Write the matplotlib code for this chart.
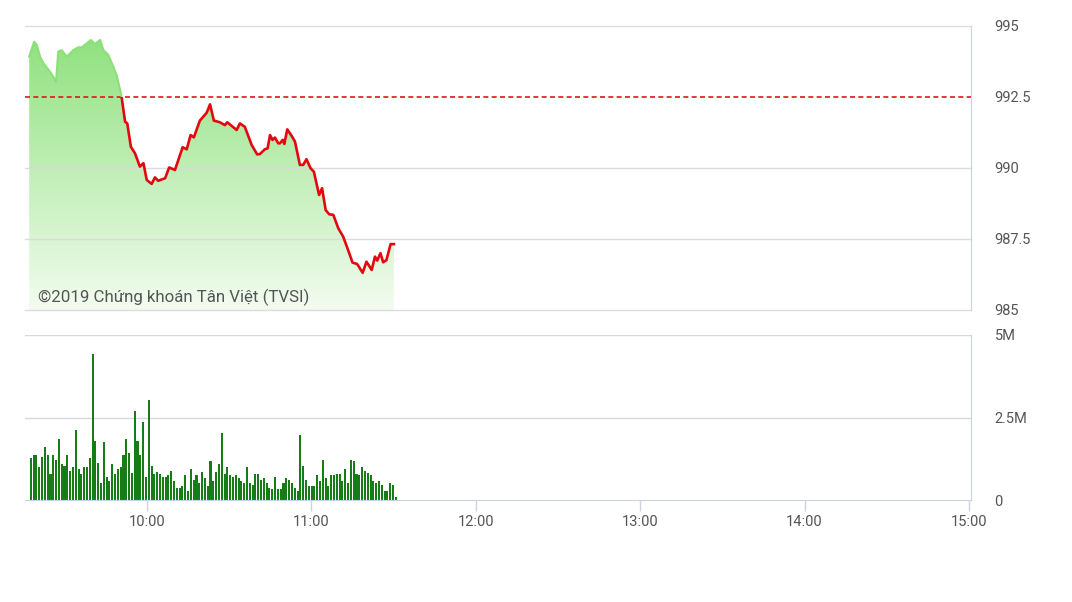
import numpy as np
import matplotlib.pyplot as plt
from matplotlib.patches import Rectangle
from matplotlib.colors import LinearSegmentedColormap

plt.rcParams['font.family'] = ['Roboto', 'DejaVu Sans']

# index, minutes after 9:00
price_min = [17, 18.8, 19.8, 21, 22.2, 24.6, 25.8, 26.8, 27.6, 28.9, 30.7, 33.1,
             34.9, 36.2, 38, 39.5, 41, 42.9, 44.1, 45.9, 47.7, 48.9, 50.2, 50.8,
             52, 52.8, 54.1, 55.6, 57.4, 58.7, 59.9, 61.7, 62.9, 64.1, 66.6, 68.1,
             70.2, 73.0, 74.5, 75.9, 77.1, 79.3, 81.8, 83.0, 84.4, 86.6, 88.4, 89.3,
             92.7, 93.9, 95.7, 98.2, 100.2, 101.2, 103.0, 104.0, 104.9, 105.8, 106.7,
             107.9, 108.5, 109.5, 110.1, 111.2, 112.8, 114.0, 115.8, 117.0, 118.2,
             119.7, 120.9, 122.8, 123.9, 125.2, 126.5, 128.0, 129.8, 131.6, 133.4,
             135.0, 136.7, 138.7, 140.1, 142.0, 143.2, 144.0, 145.2, 146.2, 147.4,
             148.9, 150.1]
price_val = [993.92, 994.45, 994.33, 993.92, 993.69, 993.39, 993.21, 993.03, 994.10,
             994.15, 993.92, 994.15, 994.25, 994.25, 994.39, 994.51, 994.37, 994.51,
             994.15, 993.98, 993.57, 993.27, 992.75, 992.45, 991.63, 991.57, 990.75,
             990.52, 990.05, 990.17, 989.58, 989.44, 989.67, 989.55, 989.64, 990.02,
             989.93, 990.73, 990.66, 991.16, 991.08, 991.67, 991.95, 992.24, 991.67,
             991.61, 991.51, 991.61, 991.34, 991.57, 991.45, 990.81, 990.48, 990.49,
             990.66, 990.69, 991.16, 990.99, 991.07, 990.87, 990.87, 990.99, 990.85,
             991.36, 991.13, 990.93, 990.11, 990.11, 990.31, 989.99, 989.87, 989.05,
             989.29, 988.52, 988.37, 988.35, 987.88, 987.58, 987.11, 986.67, 986.62,
             986.31, 986.70, 986.41, 986.88, 986.74, 987.00, 986.68, 986.76, 987.32,
             987.32]
ref_price = 992.5

# volume per minute, millions
vol_m = [1.26, 1.36, 1.36, 0.99, 1.29, 1.60, 1.36, 0.79, 1.36, 1.21, 1.84, 1.09,
         1.03, 1.36, 0.88, 0.99, 2.12, 0.94, 0.79, 0.99, 0.99, 1.26, 4.42, 1.80,
         1.11, 0.51, 1.76, 0.71, 0.59, 1.09, 0.79, 0.94, 0.99, 1.36, 1.84, 1.41,
         0.83, 2.70, 1.80, 1.36, 2.36, 0.71, 3.03, 1.03, 0.79, 0.85, 0.79, 0.71,
         0.69, 0.76, 0.88, 0.58, 0.35, 0.37, 0.42, 0.76, 0.27, 0.94, 0.61, 0.76,
         0.52, 0.85, 0.68, 0.42, 1.18, 0.58, 0.84, 1.09,
         2.04, 0.79, 0.99, 0.76, 0.71, 0.76, 0.66, 0.58, 0.52, 0.99, 0.51, 0.45,
         0.79, 0.79, 0.61, 0.66, 0.51, 0.37, 0.33, 0.69, 0.33, 0.33, 0.51, 0.66,
         0.61, 0.51, 0.37, 0.27, 1.96, 1.03, 0.61, 0.42, 0.42, 0.42, 0.76, 0.58,
         1.21, 0.66, 0.42, 0.76, 0.76, 0.79, 0.79, 0.58, 0.94, 0.51, 1.21, 1.18,
         0.79, 0.76, 0.99, 0.89, 0.83, 0.76, 0.58, 0.51, 0.58, 0.45, 0.27, 0.27,
         0.51, 0.45, 0.1]
vol_min = np.linspace(17.6, 150.8, len(vol_m))

hour_ticks = [60, 120, 180, 240, 300, 360]
hour_labels = ['10:00', '11:00', '12:00', '13:00', '14:00', '15:00']
price_ticks = [985, 987.5, 990, 992.5, 995]
vol_ticks = [0, 2.5, 5]
vol_labels = ['0', '2.5M', '5M']

xmin, xmax = 15.47, 360.73
grid_c = '#d9d9d9'
axis_c = '#c9d3e2'
txt_c = '#555555'

fig = plt.figure(figsize=(10.72, 6.02), dpi=100)
ax = fig.add_axes([25 / 1072, 1 - 310 / 602, 946 / 1072, 284 / 602])
axv = fig.add_axes([25 / 1072, 1 - 500 / 602, 946 / 1072, 165 / 602])

# price panel
ax.set_xlim(xmin, xmax)
ax.set_ylim(985, 995)
for v in [985, 987.5, 990, 995]:
    ax.axhline(v, color=grid_c, lw=1, zorder=1.5, alpha=0.9, clip_on=False)

poly = ax.fill_between(price_min, price_val, 985, color='none', lw=0)
grad = np.linspace(0, 1, 256).reshape(-1, 1)
cmap = LinearSegmentedColormap.from_list('g', ['#f3fcf0', '#8ce07a'])
im = ax.imshow(grad, cmap=cmap, aspect='auto', origin='lower',
               extent=[xmin, xmax, 985, 995], zorder=1)
im.set_clip_path(poly.get_paths()[0], transform=ax.transData)

ax.axhline(ref_price, color='#e0141c', lw=1.2, ls=(0, (3, 2)), zorder=2)

red_line, = ax.plot(price_min, price_val, color='#e3080f', lw=1.9, zorder=3)
red_line.set_clip_path(Rectangle((xmin, 980), xmax - xmin, ref_price - 980,
                                 transform=ax.transData))
green_line, = ax.plot(price_min, price_val, color='#8ce07a', lw=1.5, zorder=3)
green_line.set_clip_path(Rectangle((xmin, ref_price), xmax - xmin, 10,
                                   transform=ax.transData))

ax.text((38 - 25) / 946, 1 - (297 - 26) / 284, '©2019 Chứng khoán Tân Việt (TVSI)',
        transform=ax.transAxes, fontsize=12.2, color=txt_c, va='center', ha='left',
        zorder=4)

ax.set_xticks([])
ax.yaxis.tick_right()
ax.set_yticks(price_ticks)
ax.set_yticklabels(['985', '987.5', '990', '992.5', '995'])
ax.tick_params(axis='y', length=0, pad=17, labelsize=10.5, labelcolor=txt_c)
for s in ['left', 'top', 'bottom']:
    ax.spines[s].set_visible(False)
ax.spines['right'].set_color(axis_c)
ax.set_facecolor('none')

# volume panel
axv.set_xlim(xmin, xmax)
axv.set_ylim(0, 5)
for v in [2.5, 5]:
    axv.axhline(v, color=grid_c, lw=1, zorder=0)
axv.bar(vol_min, vol_m, width=0.75, color='#167d16', zorder=2)

axv.yaxis.tick_right()
axv.set_yticks(vol_ticks)
axv.set_yticklabels(vol_labels)
axv.tick_params(axis='y', length=0, pad=17, labelsize=10.5, labelcolor=txt_c)
axv.set_xticks(hour_ticks)
axv.set_xticklabels(hour_labels)
axv.tick_params(axis='x', length=8, width=1, color=axis_c, pad=3,
                labelsize=10.5, labelcolor=txt_c)
for s in ['left', 'top']:
    axv.spines[s].set_visible(False)
axv.spines['right'].set_color(axis_c)
axv.spines['bottom'].set_color(axis_c)
axv.set_facecolor('none')

fig.savefig('out.png', dpi=100)
